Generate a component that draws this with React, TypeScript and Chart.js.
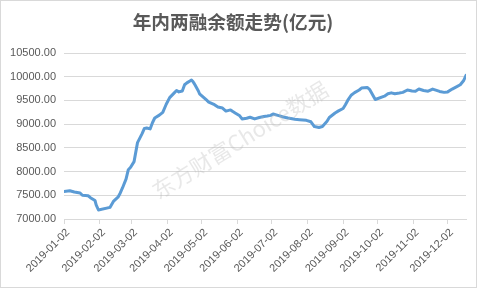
import React, { useEffect, useRef } from "react";
import { Chart, registerables } from "chart.js";

Chart.register(...registerables);

const TITLE = "年内两融余额走势(亿元)";
const WATERMARK = "东方财富Choice数据";

const dates: string[] = [
  "2019-01-02", "2019-01-07", "2019-01-11", "2019-01-16", "2019-01-18", "2019-01-23", "2019-01-25", "2019-01-29", "2019-01-30", "2019-02-01",
  "2019-02-11", "2019-02-14", "2019-02-18", "2019-02-20", "2019-02-22", "2019-02-25", "2019-02-27", "2019-03-01", "2019-03-04", "2019-03-07",
  "2019-03-11", "2019-03-13", "2019-03-15", "2019-03-18", "2019-03-20", "2019-03-22", "2019-03-26", "2019-03-29", "2019-04-01", "2019-04-04",
  "2019-04-08", "2019-04-10", "2019-04-12", "2019-04-15", "2019-04-17", "2019-04-19", "2019-04-22", "2019-04-23", "2019-04-24", "2019-04-25",
  "2019-04-26", "2019-04-29", "2019-04-30", "2019-05-06", "2019-05-08", "2019-05-13", "2019-05-16", "2019-05-20", "2019-05-23", "2019-05-27",
  "2019-05-29", "2019-05-31", "2019-06-04", "2019-06-06", "2019-06-10", "2019-06-13", "2019-06-17", "2019-06-21", "2019-06-25", "2019-06-28",
  "2019-07-01", "2019-07-03", "2019-07-08", "2019-07-12", "2019-07-16", "2019-07-22", "2019-07-26", "2019-08-01", "2019-08-05", "2019-08-08",
  "2019-08-12", "2019-08-15", "2019-08-19", "2019-08-21", "2019-08-26", "2019-08-29", "2019-09-02", "2019-09-04", "2019-09-06", "2019-09-09",
  "2019-09-12", "2019-09-16", "2019-09-18", "2019-09-23", "2019-09-25", "2019-09-30", "2019-10-08", "2019-10-11", "2019-10-14", "2019-10-17",
  "2019-10-21", "2019-10-24", "2019-10-28", "2019-11-01", "2019-11-04", "2019-11-07", "2019-11-11", "2019-11-15", "2019-11-19", "2019-11-25",
  "2019-11-29", "2019-12-02", "2019-12-06", "2019-12-10", "2019-12-13", "2019-12-16", "2019-12-18",
];

const balances: number[] = [
  7580, 7597, 7570, 7548, 7500, 7490, 7450, 7390, 7300, 7190,
  7245, 7370, 7460, 7550, 7660, 7840, 8040, 8090, 8210, 8610,
  8800, 8910, 8920, 8900, 9030, 9130, 9190, 9250, 9420, 9560,
  9660, 9710, 9680, 9700, 9830, 9870, 9915, 9930, 9905, 9870,
  9830, 9700, 9640, 9510, 9465, 9410, 9360, 9340, 9275, 9300,
  9265, 9235, 9175, 9110, 9125, 9145, 9110, 9140, 9160, 9170,
  9185, 9215, 9180, 9150, 9130, 9105, 9095, 9080, 9050, 8950,
  8930, 8950, 9060, 9140, 9235, 9280, 9330, 9410, 9500, 9610,
  9665, 9720, 9760, 9775, 9735, 9520, 9590, 9640, 9660, 9640,
  9655, 9670, 9720, 9700, 9695, 9740, 9710, 9695, 9740, 9690,
  9670, 9680, 9740, 9790, 9830, 9920, 10030,
];

const tickDates: string[] = [
  "2019-01-02", "2019-02-02", "2019-03-02", "2019-04-02", "2019-05-02", "2019-06-02",
  "2019-07-02", "2019-08-02", "2019-09-02", "2019-10-02", "2019-11-02", "2019-12-02",
];

const yTicks: number[] = [7000, 7500, 8000, 8500, 9000, 9500, 10000, 10500];

const dayOffset = (s: string): number => {
  const [y, m, d] = s.split("-").map(Number);
  return Math.round((Date.UTC(y, m - 1, d) - Date.UTC(2019, 0, 2)) / 86400000);
};

export default function App() {
  const ref = useRef<HTMLCanvasElement | null>(null);

  useEffect(() => {
    document.body.style.margin = "0";
    const canvas = ref.current;
    if (!canvas) return;

    const points = dates.map((d, i) => ({ x: dayOffset(d), y: balances[i] }));
    const tickVals = tickDates.map(dayOffset);

    const watermark = {
      id: "watermark",
      afterDatasetsDraw(chart: any) {
        const ctx = chart.ctx;
        ctx.save();
        ctx.translate(240, 140);
        ctx.rotate((-31.7 * Math.PI) / 180);
        ctx.font = '22px "Noto Sans CJK SC"';
        ctx.fillStyle = "rgba(185,185,185,0.32)";
        ctx.textAlign = "center";
        ctx.textBaseline = "middle";
        ctx.fillText(WATERMARK, 0, 0);
        ctx.restore();
      },
    };

    const frame = {
      id: "frame",
      afterDraw(chart: any) {
        const ctx = chart.ctx;
        ctx.save();
        ctx.strokeStyle = "#D9D9D9";
        ctx.lineWidth = 1;
        ctx.strokeRect(0.5, 0.5, 476, 287);
        ctx.restore();
      },
    };

    const chart = new Chart(canvas, {
      type: "line",
      data: {
        datasets: [
          {
            data: points,
            borderColor: "#5B9BD5",
            borderWidth: 3,
            pointRadius: 0,
            tension: 0,
            fill: false,
            borderJoinStyle: "round",
            borderCapStyle: "round",
          },
        ],
      },
      options: {
        animation: false,
        responsive: true,
        maintainAspectRatio: false,
        layout: { padding: { left: 0, right: 15, top: 0, bottom: 0 } },
        plugins: {
          legend: { display: false },
          tooltip: { enabled: false },
          title: {
            display: true,
            text: TITLE,
            color: "#595959",
            font: { family: '"Noto Sans CJK SC"', size: 18.67, weight: "bold", lineHeight: 1.2 },
            padding: { top: 11, bottom: 19.6 },
          },
        },
        scales: {
          x: {
            type: "linear",
            min: 0,
            max: dayOffset(dates[dates.length - 1]),
            afterBuildTicks: (scale: any) => {
              scale.ticks = tickVals.map((v) => ({ value: v }));
            },
            afterFit: (scale: any) => {
              scale.height = 70;
            },
            grid: {
              drawOnChartArea: false,
              drawTicks: true,
              tickLength: 5,
              color: "#D9D9D9",
            },
            border: { display: true, color: "#D9D9D9" },
            ticks: {
              autoSkip: false,
              minRotation: 45,
              maxRotation: 45,
              labelOffset: 4,
              padding: 2,
              color: "#595959",
              font: { family: '"Liberation Sans"', size: 11 },
              callback: (_v: any, i: number) => tickDates[i],
            },
          },
          y: {
            min: yTicks[0],
            max: yTicks[yTicks.length - 1],
            afterBuildTicks: (scale: any) => {
              scale.ticks = yTicks.map((v) => ({ value: v }));
            },
            afterFit: (scale: any) => {
              scale.width = 64;
            },
            grid: { color: "#D9D9D9", drawTicks: false },
            border: { display: false },
            ticks: {
              padding: 8,
              color: "#595959",
              font: { family: '"Liberation Sans"', size: 11 },
              callback: (v: any) => Number(v).toFixed(2),
            },
          },
        },
      },
      plugins: [watermark, frame],
    });

    return () => chart.destroy();
  }, []);

  return (
    <div style={{ width: 481, height: 289, position: "relative", background: "#fff" }}>
      <canvas ref={ref} />
    </div>
  );
}
